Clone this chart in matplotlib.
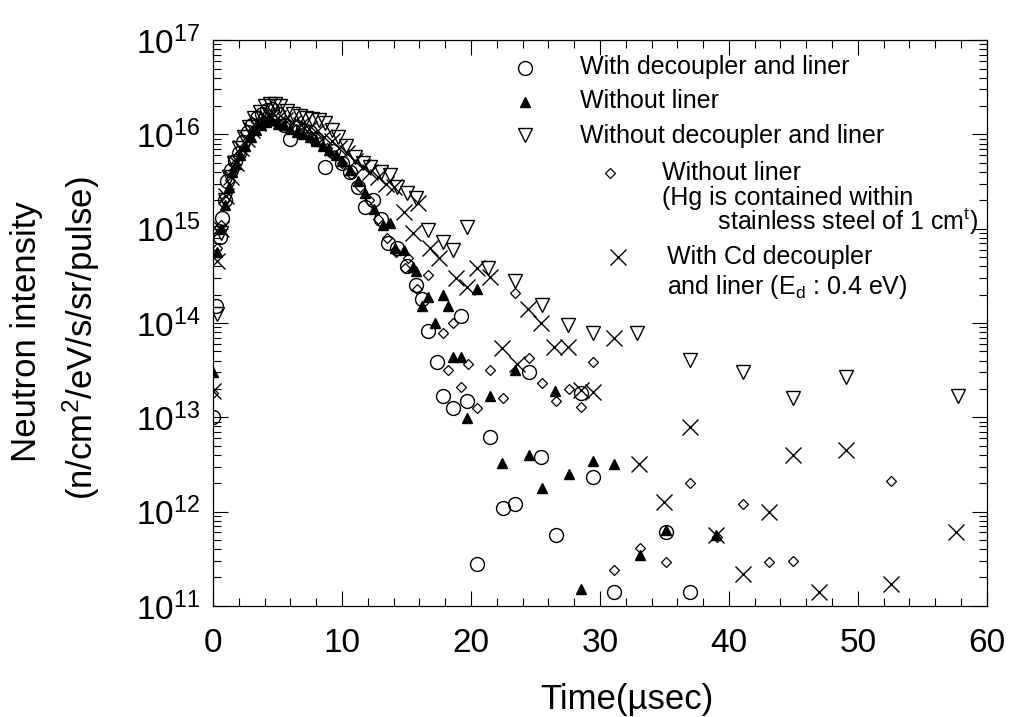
import matplotlib
matplotlib.use("Agg")
from matplotlib import pyplot as plt
from matplotlib.ticker import MultipleLocator, LogLocator, NullFormatter

plt.rcParams['font.family'] = ['Liberation Sans', 'DejaVu Sans']
plt.rcParams['mathtext.fontset'] = 'custom'
plt.rcParams['mathtext.rm'] = 'Liberation Sans'
plt.rcParams['mathtext.it'] = 'Liberation Sans:italic'

# With decoupler and liner (open circles)
t_circ = [0.0, 0.2, 0.5, 0.7, 0.9, 1.1, 1.4, 1.7, 2.0, 2.3, 2.7, 3.0, 3.4, 3.8, 4.2, 4.6,
          5.0, 5.5, 6.0, 6.5, 7.0, 7.5, 8.0, 8.7, 9.3, 10.0, 10.6, 11.2, 11.8, 12.4, 13.0,
          13.6, 14.3, 15.0, 15.7, 16.2, 16.7, 17.4, 17.8, 18.6, 19.2, 19.7, 20.5, 21.5,
          22.5, 23.4, 24.5, 25.4, 26.6, 28.5, 29.5, 31.1, 35.1, 37.0]
i_circ = [1.0e13, 1.5e14, 8.1e14, 1.3e15, 2.0e15, 3.2e15, 4.2e15, 5.2e15, 6.3e15, 8.3e15,
          1.05e16, 1.26e16, 1.5e16, 1.66e16, 1.8e16, 1.86e16, 1.66e16, 1.26e16, 8.9e15,
          1.2e16, 1.12e16, 1.05e16, 8.9e15, 4.5e15, 6.6e15, 5.0e15, 4.0e15, 2.8e15, 1.7e15,
          2.0e15, 1.26e15, 7.1e14, 6.3e14, 4.0e14, 2.5e14, 1.8e14, 8.3e13, 3.9e13, 1.7e13,
          1.26e13, 1.2e14, 1.5e13, 2.8e11, 6.2e12, 1.1e12, 1.2e12, 3.0e13, 3.8e12, 5.6e11,
          1.8e13, 2.3e12, 1.4e11, 6.0e11, 1.4e11]

# Without liner (filled triangles)
t_tri = [0.0, 0.3, 0.6, 0.9, 1.2, 1.5, 1.8, 2.1, 2.5, 2.9, 3.3, 3.7, 4.1, 4.5, 5.0, 5.5,
         6.0, 6.5, 7.0, 7.5, 8.0, 8.5, 9.0, 9.5, 10.0, 10.6, 11.2, 11.8, 12.5, 13.2, 13.7,
         14.1, 14.8, 15.5, 15.7, 16.2, 16.7, 17.2, 17.8, 18.2, 18.6, 19.2, 19.7, 20.5,
         21.5, 22.4, 23.4, 24.5, 25.5, 26.5, 27.6, 28.5, 29.5, 31.1, 33.1, 35.1, 39.0]
i_tri = [3.0e13, 5.6e14, 1.0e15, 1.8e15, 2.8e15, 4.0e15, 4.8e15, 6.0e15, 7.6e15, 9.5e15,
         1.12e16, 1.26e16, 1.35e16, 1.41e16, 1.3e16, 1.26e16, 1.15e16, 1.07e16, 1.0e16,
         9.3e15, 8.5e15, 7.6e15, 6.8e15, 6.0e15, 5.2e15, 4.2e15, 3.2e15, 2.4e15, 1.6e15,
         1.1e15, 1.15e15, 6.2e14, 5.9e14, 3.9e14, 3.6e14, 1.5e14, 1.9e14, 1.0e14, 2.0e14,
         1.5e14, 4.4e13, 4.4e13, 9.8e12, 2.3e14, 1.7e13, 3.3e12, 3.2e13, 4.0e12, 1.8e12,
         1.9e13, 2.5e12, 1.5e11, 3.4e12, 3.2e12, 3.5e11, 6.3e11, 5.6e11]

# Without decoupler and liner (open down triangles)
t_down = [0.3, 0.6, 0.9, 1.2, 1.6, 2.0, 2.4, 2.8, 3.2, 3.6, 4.0, 4.4, 4.8, 5.2, 5.7, 6.2,
          6.7, 7.2, 7.7, 8.2, 8.7, 9.2, 9.7, 10.3, 11.0, 11.6, 12.2, 13.0, 13.7, 14.3,
          15.0, 15.7, 16.7, 17.8, 18.6, 19.7, 21.3, 23.4, 25.5, 27.5, 29.5, 32.9, 37.0,
          41.1, 45.0, 49.1, 57.8]
i_down = [1.26e14, 8.9e14, 2.0e15, 3.5e15, 5.0e15, 7.1e15, 9.5e15, 1.2e16, 1.48e16,
          1.74e16, 2.0e16, 2.1e16, 2.1e16, 2.0e16, 1.78e16, 1.66e16, 1.58e16, 1.5e16,
          1.45e16, 1.41e16, 1.32e16, 1.12e16, 9.5e15, 7.6e15, 5.8e15, 5.0e15, 4.5e15,
          4.0e15, 3.7e15, 2.8e15, 2.4e15, 2.1e15, 9.8e14, 7.2e14, 5.9e14, 1.05e15, 3.8e14,
          2.8e14, 1.55e14, 9.5e13, 7.9e13, 7.8e13, 4.1e13, 3.0e13, 1.6e13, 2.7e13, 1.7e13]

# Without liner, Hg in stainless steel (small diamonds)
t_dia = [0.0, 0.3, 0.6, 0.9, 1.3, 1.7, 2.1, 2.6, 3.1, 3.6, 4.1, 4.6, 5.2, 5.8, 6.4, 7.0,
         7.6, 8.2, 8.8, 9.4, 10.0, 10.7, 11.4, 12.1, 12.8, 13.5, 14.2, 14.9, 15.1, 15.8,
         16.7, 17.8, 18.2, 18.6, 19.2, 19.8, 20.5, 21.5, 22.5, 23.4, 24.5, 25.5, 26.6,
         27.6, 28.5, 29.5, 31.1, 33.1, 35.1, 37.0, 39.1, 41.1, 43.1, 45.0, 52.6]
i_dia = [1.8e13, 6.3e14, 1.1e15, 2.0e15, 3.3e15, 4.8e15, 6.3e15, 8.5e15, 1.12e16, 1.32e16,
         1.48e16, 1.51e16, 1.41e16, 1.26e16, 1.15e16, 1.05e16, 9.5e15, 8.3e15, 7.1e15,
         6.0e15, 5.0e15, 3.8e15, 2.8e15, 2.0e15, 1.26e15, 7.9e14, 5.6e14, 3.8e14, 4.9e14,
         2.3e14, 3.2e14, 7.8e13, 3.2e13, 1.0e14, 2.1e13, 3.7e13, 1.26e13, 3.2e13, 1.6e13,
         2.1e14, 4.3e13, 2.3e13, 1.5e13, 2.0e13, 1.3e13, 3.9e13, 2.4e11, 4.1e11, 2.9e11,
         2.0e12, 5.4e11, 1.2e12, 2.9e11, 3.0e11, 2.1e12]

# With Cd decoupler and liner (crosses)
t_cd = [0.0, 0.3, 0.6, 1.0, 1.4, 1.8, 2.2, 2.6, 3.0, 3.5, 4.0, 4.5, 5.0, 5.6, 6.2, 6.8,
        7.4, 8.0, 8.6, 9.2, 9.8, 10.4, 11.0, 11.6, 12.2, 12.8, 13.4, 14.0, 14.8, 15.5,
        15.9, 16.8, 17.5, 18.8, 19.7, 20.5, 21.5, 22.4, 23.6, 24.4, 25.4, 26.4, 27.5,
        28.5, 29.5, 31.1, 33.0, 35.0, 37.0, 39.0, 41.1, 43.1, 45.0, 47.0, 49.1, 52.6, 57.6]
i_cd = [1.9e13, 4.5e14, 1.0e15, 2.2e15, 3.5e15, 5.0e15, 7.1e15, 8.9e15, 1.12e16, 1.32e16,
        1.5e16, 1.58e16, 1.5e16, 1.41e16, 1.32e16, 1.26e16, 1.15e16, 1.05e16, 9.5e15,
        8.5e15, 7.2e15, 6.3e15, 5.2e15, 4.5e15, 4.0e15, 3.5e15, 3.0e15, 2.75e15, 1.5e15,
        8.9e14, 1.86e15, 6.2e14, 4.9e14, 3.0e14, 2.4e14, 3.8e14, 3.1e14, 5.4e13, 3.7e13,
        1.4e14, 1.0e14, 5.5e13, 5.5e13, 1.95e13, 1.86e13, 6.9e13, 3.2e12, 1.26e12,
        7.9e12, 5.6e11, 2.2e11, 1.0e12, 4.0e12, 1.4e11, 4.5e12, 1.7e11, 6.0e11]

fig = plt.figure(figsize=(10.1, 7.17), dpi=100)
ax = fig.add_axes([0.211, 0.155, 0.766, 0.789])

ax.plot(t_circ, i_circ, 'o', ms=10, mfc='none', mec='k', mew=1.0, linestyle='none')
ax.plot(t_tri, i_tri, '^', ms=7.5, mfc='k', mec='k', linestyle='none')
ax.plot(t_down, i_down, 'v', ms=10.5, mfc='none', mec='k', mew=1.0, linestyle='none')
ax.plot(t_dia, i_dia, 'D', ms=5, mfc='none', mec='k', mew=0.9, linestyle='none')
ax.plot(t_cd, i_cd, 'x', ms=11, mec='k', mew=1.0, linestyle='none')

ax.set_yscale('log')
ax.set_xlim(0, 60)
ax.set_ylim(1e11, 1e17)
ax.xaxis.set_major_locator(MultipleLocator(10))
ax.xaxis.set_minor_locator(MultipleLocator(2))
ax.yaxis.set_major_locator(LogLocator(base=10, numticks=10))
ax.yaxis.set_minor_locator(LogLocator(base=10, subs=range(2, 10), numticks=100))
ax.yaxis.set_minor_formatter(NullFormatter())
ax.tick_params(which='both', direction='in', top=True, right=True, width=0.8)
ax.tick_params(which='major', length=11)
ax.tick_params(which='minor', length=6)
ax.tick_params(axis='x', labelsize=24, pad=16)
ax.tick_params(axis='y', labelsize=24, pad=9)
for s in ax.spines.values():
    s.set_linewidth(0.9)

# legend, laid out by hand like the original
kw = dict(transform=ax.transAxes, fontsize=18, va='center', ha='left')
ax.plot([0.403], [0.951], 'o', ms=10, mfc='none', mec='k', mew=1.0, transform=ax.transAxes, clip_on=False)
ax.text(0.474, 0.952, "With decoupler and liner", **kw)
ax.plot([0.403], [0.890], '^', ms=7.5, mfc='k', mec='k', transform=ax.transAxes, clip_on=False)
ax.text(0.474, 0.892, "Without liner", **kw)
ax.plot([0.403], [0.832], 'v', ms=10.5, mfc='none', mec='k', mew=1.0, transform=ax.transAxes, clip_on=False)
ax.text(0.474, 0.830, "Without decoupler and liner", **kw)
ax.plot([0.513], [0.765], 'D', ms=5, mfc='none', mec='k', mew=0.9, transform=ax.transAxes, clip_on=False)
ax.text(0.580, 0.765, "Without liner", **kw)
ax.text(0.580, 0.697, "(Hg is contained within\n" + " " * 8 + "stainless steel of 1 cm$^{\\rm t}$)",
        linespacing=0.85, **kw)
ax.plot([0.523], [0.617], 'x', ms=11, mec='k', mew=1.0, transform=ax.transAxes, clip_on=False)
ax.text(0.587, 0.617, "With Cd decoupler", **kw)
ax.text(0.587, 0.564, "and liner (E$_{\\rm d}$ : 0.4 eV)", **kw)

fig.text(627 / 1010, 1 - 700 / 717, "Time(\u00b5sec)", fontsize=25, ha='center', va='center')
fig.text(27 / 1010, 1 - 332 / 717, "Neutron intensity", fontsize=25, rotation=90, ha='center', va='center')
fig.text(81 / 1010, 1 - 338 / 717, "(n/cm$^2$/eV/s/sr/pulse)", fontsize=25, rotation=90, ha='center', va='center')

plt.savefig('out.png', dpi=100)
